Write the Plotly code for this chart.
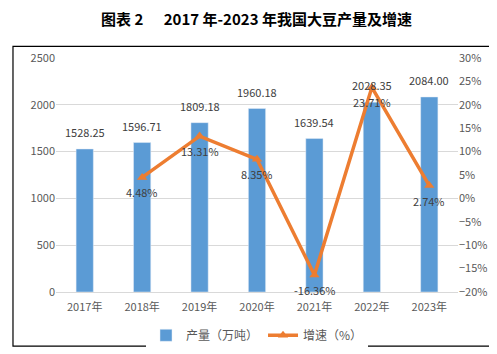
import plotly.graph_objects as go

years = ["2017年", "2018年", "2019年", "2020年", "2021年", "2022年", "2023年"]
output = [1528.25, 1596.71, 1809.18, 1960.18, 1639.54, 2028.35, 2084.00]
growth_years = ["2018年", "2019年", "2020年", "2021年", "2022年", "2023年"]
growth = [4.48, 13.31, 8.35, -16.36, 23.71, 2.74]

font_cn = "Noto Sans CJK SC"
grey = "#595959"
label_color = "#404040"

fig = go.Figure()

fig.add_trace(go.Bar(
    x=years, y=output, name="产量（万吨）",
    marker_color="#5B9BD5", width=0.3,
))

fig.add_trace(go.Scatter(
    x=growth_years, y=growth, name="增速（%）", yaxis="y2",
    mode="lines+markers",
    line=dict(color="#ED7D31", width=3.5),
    marker=dict(symbol="triangle-up", size=9, color="#ED7D31"),
    cliponaxis=False,
))

# data labels placed like the original (bar values above, growth below point)
annotations = []
for yr, v in zip(years, output):
    annotations.append(dict(x=yr, y=v, xref="x", yref="y", text=f"{v:.2f}",
                            showarrow=False, yshift=17,
                            font=dict(size=11, color=label_color)))
for yr, g in zip(growth_years, growth):
    annotations.append(dict(x=yr, y=g, xref="x", yref="y2", text=f"{g:.2f}%",
                            showarrow=False, yshift=-15,
                            font=dict(size=11, color=label_color)))

fig.update_layout(
    width=497, height=354,
    margin=dict(l=48, r=47, t=50, b=62),
    paper_bgcolor="white", plot_bgcolor="white",
    font=dict(family=font_cn, size=11, color=grey),
    title=dict(text="<b>图表 2      2017 年-2023 年我国大豆产量及增速</b>",
               x=0.5, xanchor="center", y=0.966, yanchor="middle",
               font=dict(size=15, color="black", family=font_cn)),
    xaxis=dict(showgrid=False, showline=True, linecolor="#D9D9D9", ticks="",
               ticklabelstandoff=5, tickfont=dict(size=11, color=grey)),
    yaxis=dict(range=[0, 2500], dtick=500, gridcolor="#D9D9D9", zeroline=False,
               tickfont=dict(size=11, color=grey)),
    yaxis2=dict(range=[-20, 30], dtick=5, overlaying="y", side="right",
                ticksuffix="%", showgrid=False, zeroline=False,
                tickfont=dict(size=11, color=grey)),
    legend=dict(orientation="h", x=0.5, xanchor="center", y=-0.185, yanchor="middle",
                font=dict(size=12, color=grey)),
    showlegend=True,
    annotations=annotations,
    shapes=[dict(type="rect", xref="paper", yref="paper",
                 x0=-0.107, x1=1.102, y0=-0.231, y1=1.0496,
                 line=dict(color="black", width=1.2))],
)

fig.write_html("out.html")
